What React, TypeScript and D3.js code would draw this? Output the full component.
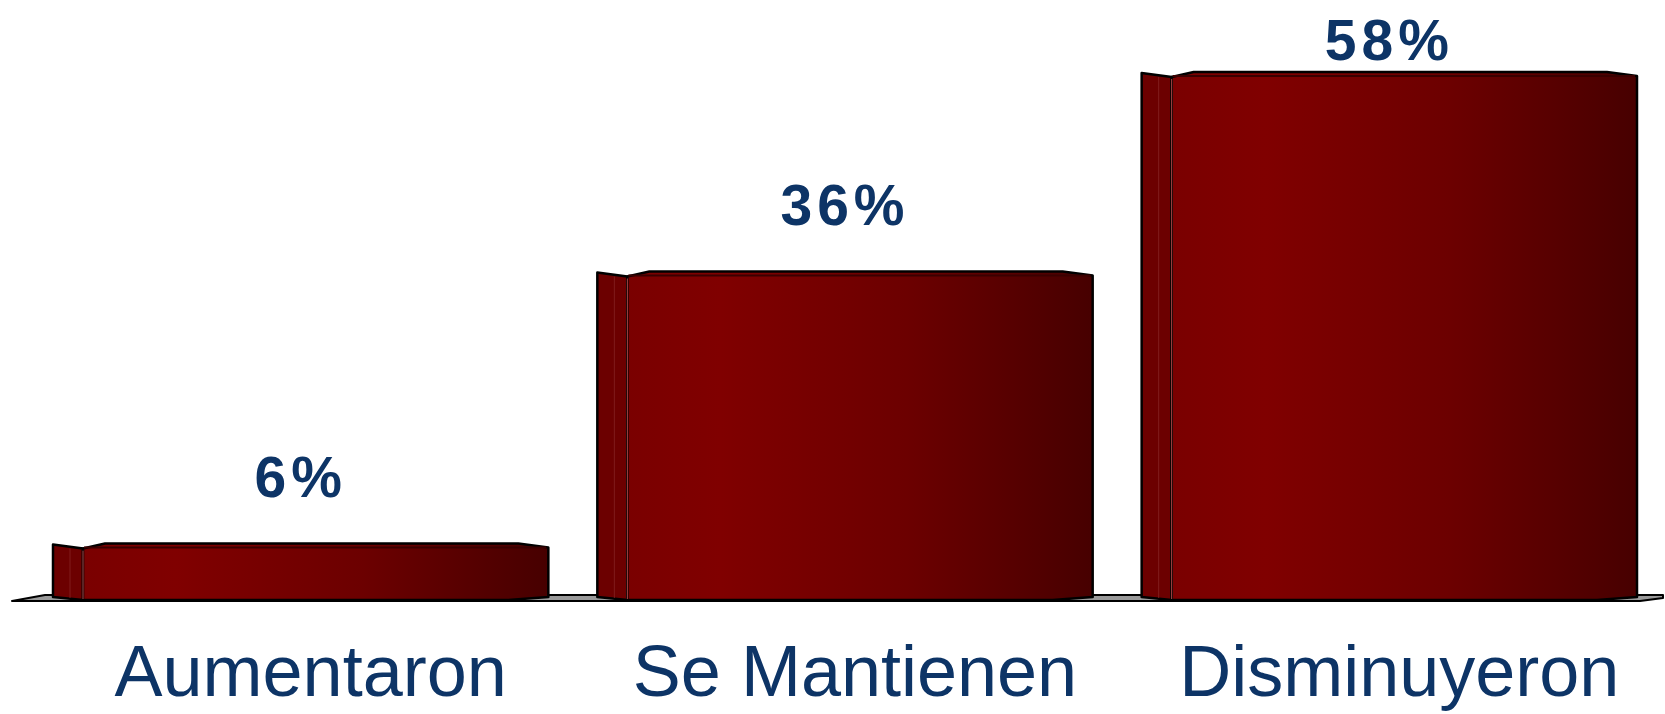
import React from 'react';
import * as d3 from 'd3';

const categories = ['Aumentaron', 'Se Mantienen', 'Disminuyeron'];
const values = [6, 36, 58];

const width = 1665;
const height = 714;
const base = 599;

export default function App() {
  const x = d3.scaleBand<string>()
    .domain(categories)
    .range([53, 1637])
    .paddingInner(0.09)
    .paddingOuter(0);

  const y = d3.scaleLinear()
    .domain([0, 58])
    .range([base, 73]);

  const side = 30;

  return (
    <svg width={width} height={height} style={{ position: 'absolute', left: 0, top: 0, background: '#fff' }}>
      <defs>
        <linearGradient id="front" x1="0" x2="1" y1="0" y2="0">
          <stop offset="0" stopColor="#7a0000" />
          <stop offset="0.2" stopColor="#800000" />
          <stop offset="0.6" stopColor="#6c0000" />
          <stop offset="1" stopColor="#470000" />
        </linearGradient>
      </defs>

      {/* floor */}
      <path
        d={`M12,601 L45,595 L1663,595 L1663,598 L1640,601 Z`}
        fill="#9a9a9a"
        stroke="#000"
        strokeWidth={2}
        strokeLinejoin="round"
      />

      {categories.map((c, i) => {
        const x0 = x(c) as number;
        const x1 = x0 + x.bandwidth();
        const top = y(values[i]);
        const xs = x0 + side;
        const front = `M${xs},${top + 4} L${xs + 22},${top - 1} L${x1 - 30},${top - 1} L${x1},${top + 3} L${x1},${base - 2} L${x1 - 40},${base + 1} L${xs},${base + 1} Z`;
        const left = `M${x0},${top} L${xs},${top + 4} L${xs},${base + 1} L${x0},${base - 2} Z`;
        return (
          <g key={c}>
            <path d={left} fill="#6c0000" stroke="#000" strokeWidth={2.5} strokeLinejoin="round" />
            <path d={front} fill="url(#front)" stroke="#000" strokeWidth={2.5} strokeLinejoin="round" />
            <line x1={xs + 1} x2={x1 - 2} y1={top + 3} y2={top + 3} stroke="#3a0000" strokeWidth={2} />
            <line x1={xs} x2={xs} y1={top + 6} y2={base} stroke="#b24a4a" strokeWidth={1} />
            <line x1={x0 + 17} x2={x0 + 17} y1={top + 4} y2={base - 1} stroke="#8a2a2a" strokeWidth={1} opacity={0.7} />
            <text
              x={x0 + x.bandwidth() / 2}
              y={Math.max(top - 48, 60)}
              textAnchor="middle"
              fill="#0d3466"
              fontFamily="Liberation Sans, Arial, sans-serif"
              fontWeight="bold"
              fontSize={57}
              letterSpacing={5}
            >
              {`${values[i]}%`}
            </text>
            <text
              x={x0 + x.bandwidth() / 2 + 10}
              y={696}
              textAnchor="middle"
              fill="#0d3466"
              fontFamily="Liberation Sans, Arial, sans-serif"
              fontSize={72}
            >
              {c}
            </text>
          </g>
        );
      })}
    </svg>
  );
}
